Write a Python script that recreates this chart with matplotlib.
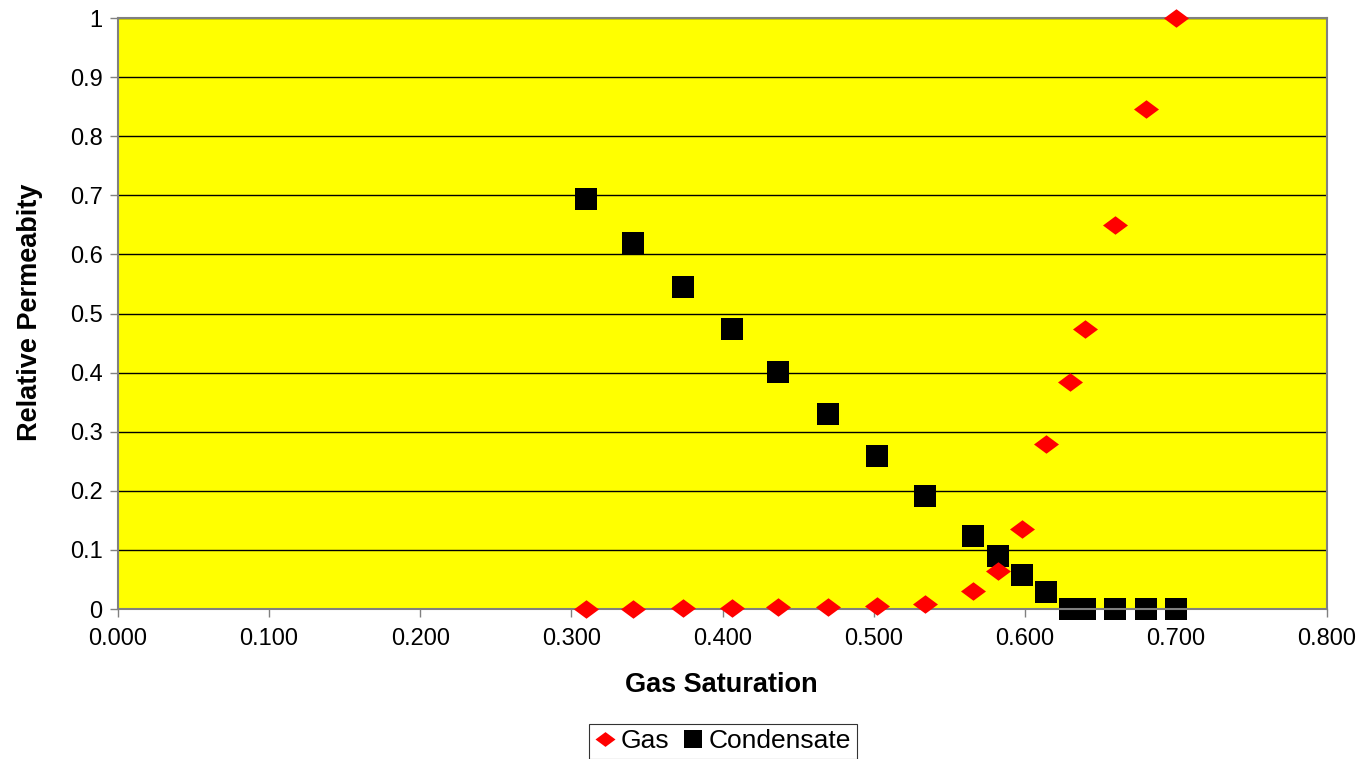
import matplotlib
matplotlib.use("Agg")
import matplotlib.pyplot as plt
from matplotlib.path import Path
from matplotlib.ticker import FixedLocator, FuncFormatter

plt.rcParams['font.family'] = ['Liberation Sans', 'DejaVu Sans']

# Gas saturation and relative permeabilities
gas_saturation = [0.310, 0.341, 0.374, 0.406, 0.437, 0.470, 0.502, 0.534,
                  0.566, 0.582, 0.598, 0.614, 0.630, 0.640, 0.660, 0.680, 0.700]
krg_gas = [0.000, 0.0005, 0.001, 0.002, 0.003, 0.003, 0.005, 0.009,
           0.030, 0.064, 0.135, 0.279, 0.384, 0.474, 0.650, 0.846, 1.000]
kr_condensate = [0.694, 0.619, 0.545, 0.474, 0.401, 0.330, 0.259, 0.191,
                 0.124, 0.090, 0.058, 0.029, 0.000, 0.000, 0.000, 0.000, 0.000]

x_ticks = [0.0, 0.1, 0.2, 0.3, 0.4, 0.5, 0.6, 0.7, 0.8]
y_ticks = [0.0, 0.1, 0.2, 0.3, 0.4, 0.5, 0.6, 0.7, 0.8, 0.9, 1.0]

# flattened diamond marker
diamond = Path([(-1, 0), (0, 0.74), (1, 0), (0, -0.74), (-1, 0)],
               [Path.MOVETO, Path.LINETO, Path.LINETO, Path.LINETO, Path.CLOSEPOLY])

W, H = 1364, 759
fig = plt.figure(figsize=(W / 100, H / 100), dpi=100)
ax = fig.add_axes([118 / W, 1 - 609 / H, (1327 - 118) / W, (609 - 18) / H])
ax.set_facecolor('#FFFF00')

for y in y_ticks[1:]:
    ax.axhline(y, color='black', lw=1.0, zorder=1)

ax.plot(gas_saturation, krg_gas, linestyle='none', marker=diamond,
        markersize=18, color='#FF0000', markeredgewidth=0, label='Gas',
        zorder=3, clip_on=False)
ax.plot(gas_saturation, kr_condensate, linestyle='none', marker='s',
        markersize=16.5, color='black', markeredgewidth=0, label='Condensate',
        zorder=2, clip_on=False)

ax.set_xlim(0, 0.8)
ax.set_ylim(0, 1)
ax.xaxis.set_major_locator(FixedLocator(x_ticks))
ax.yaxis.set_major_locator(FixedLocator(y_ticks))
ax.xaxis.set_major_formatter(FuncFormatter(lambda v, p: f"{v:.3f}"))
ax.yaxis.set_major_formatter(FuncFormatter(
    lambda v, p: "0" if v == 0 else ("1" if v == 1 else f"{v:.1f}")))
ax.tick_params(axis='both', direction='out', length=6, width=1, color='#808080',
               labelsize=17)
ax.tick_params(axis='x', pad=8)
ax.tick_params(axis='y', pad=5)

for s in ax.spines.values():
    s.set_color('#808080')
    s.set_linewidth(1.5)

fig.text(721 / W, 1 - 685 / H, 'Gas Saturation', fontsize=19.5,
         fontweight='bold', ha='center', va='center')
fig.text(30 / W, 1 - 312 / H, 'Relative Permeabity', fontsize=19.5,
         fontweight='bold', ha='center', va='center', rotation=90)

leg = fig.legend(*ax.get_legend_handles_labels(), loc='upper center',
                 bbox_to_anchor=(723 / W, 1 - 724 / H), borderaxespad=0,
                 ncol=2, frameon=True, fancybox=False, edgecolor='black',
                 fontsize=19, handlelength=0.8, handletextpad=0.2,
                 columnspacing=0.5, borderpad=0.2, markerscale=0.8)
leg.get_frame().set_linewidth(0.8)

fig.savefig('out.png', dpi=100, facecolor='white')
